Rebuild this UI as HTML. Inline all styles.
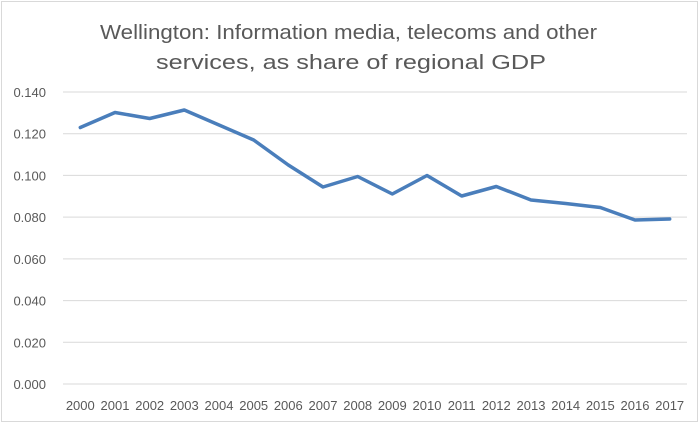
<!DOCTYPE html>
<html><head><style>body{margin:0;background:#fff}</style></head><body>
<svg width="699" height="424" xmlns="http://www.w3.org/2000/svg" font-family="Liberation Sans, sans-serif">
<rect x="1.5" y="1.5" width="696" height="420" fill="#fff" stroke="#d9d9d9"/>
<text x="100" y="39" font-size="20" fill="#595959" textLength="497" lengthAdjust="spacingAndGlyphs">Wellington: Information media, telecoms and other</text>
<text x="156" y="69" font-size="20" fill="#595959" textLength="390" lengthAdjust="spacingAndGlyphs">services, as share of regional GDP</text>
<g stroke="#d9d9d9" stroke-width="1">
<line x1="63" x2="687" y1="92" y2="92"/><line x1="63" x2="687" y1="133.7" y2="133.7"/>
<line x1="63" x2="687" y1="175.4" y2="175.4"/><line x1="63" x2="687" y1="217.1" y2="217.1"/>
<line x1="63" x2="687" y1="258.9" y2="258.9"/><line x1="63" x2="687" y1="300.6" y2="300.6"/>
<line x1="63" x2="687" y1="342.3" y2="342.3"/><line x1="63" x2="687" y1="384" y2="384"/>
</g>
<g font-size="13" fill="#595959" text-anchor="end">
<text x="46" y="97">0.140</text><text x="46" y="138.7">0.120</text><text x="46" y="180.4">0.100</text>
<text x="46" y="222.1">0.080</text><text x="46" y="263.9">0.060</text><text x="46" y="305.6">0.040</text>
<text x="46" y="347.3">0.020</text><text x="46" y="389">0.000</text>
</g>
<g font-size="13" fill="#595959" text-anchor="middle">
<text x="80.3" y="410">2000</text><text x="115" y="410">2001</text><text x="149.7" y="410">2002</text>
<text x="184.3" y="410">2003</text><text x="219" y="410">2004</text><text x="253.7" y="410">2005</text>
<text x="288.3" y="410">2006</text><text x="323" y="410">2007</text><text x="357.7" y="410">2008</text>
<text x="392.3" y="410">2009</text><text x="427" y="410">2010</text><text x="461.7" y="410">2011</text>
<text x="496.3" y="410">2012</text><text x="531" y="410">2013</text><text x="565.7" y="410">2014</text>
<text x="600.3" y="410">2015</text><text x="635" y="410">2016</text><text x="669.7" y="410">2017</text>
</g>
<polyline fill="none" stroke="#4a7ebb" stroke-width="3.5" stroke-linejoin="round" stroke-linecap="round"
points="80.3,127.5 115,112.5 149.7,118.5 184.3,110 219,125 253.7,140 288.3,165 323,187 357.7,176.5 392.3,194 427,175.5 461.7,196 496.3,186.5 531,200 565.7,203.5 600.3,207.5 635,220 669.7,219"/>
</svg>
</body></html>
